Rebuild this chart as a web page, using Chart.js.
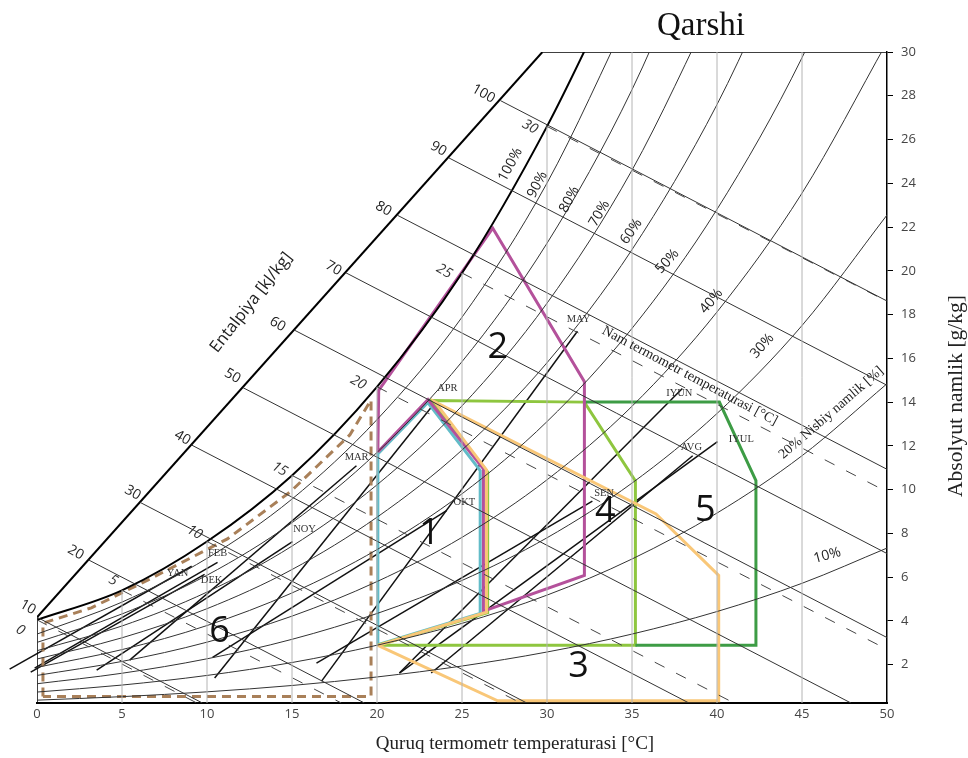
<!DOCTYPE html>
<html>
<head>
<meta charset="utf-8">
<script src="https://cdn.jsdelivr.net/npm/chart.js@4.4.1/dist/chart.umd.min.js"></script>
<style>
  html, body { margin: 0; padding: 0; background: #ffffff; }
  #wrap { width: 968px; height: 758px; }
</style>
</head>
<body>
<div id="wrap"><canvas id="chart" width="968" height="758"></canvas></div>
<script>
// ---------------- axes ----------------
const tempTicks = [0, 5, 10, 15, 20, 25, 30, 35, 40, 45, 50];          // dry-bulb °C
const humTicks  = [2, 4, 6, 8, 10, 12, 14, 16, 18, 20, 22, 24, 26, 28, 30]; // g/kg

// ---------------- relative humidity curves (g/kg at rhTemps) ----------------
const rhTemps = [0, 5, 10, 15, 20, 25, 30, 35, 40, 45, 50];
const rh100 = [4.05, 5.40, 7.63, 10.65, 14.70, 19.90, 26.60, 34.60];
const rh90  = [3.40, 4.86, 6.86, 9.57, 13.20, 17.88, 24.01, 31.99];
const rh80  = [3.02, 4.32, 6.09, 8.49, 11.70, 15.85, 21.26, 28.28, 37.36];
const rh70  = [2.64, 3.77, 5.32, 7.42, 10.22, 13.83, 18.52, 24.60, 32.44];
const rh60  = [2.26, 3.23, 4.56, 6.35, 8.74, 11.81, 15.80, 20.97, 27.60, 36.00];
const rh50  = [1.88, 2.69, 3.79, 5.28, 7.26, 9.81, 13.11, 17.37, 22.81, 29.74, 38.55];
const rh40  = [1.51, 2.15, 3.03, 4.22, 5.80, 7.82, 10.45, 13.81, 18.12, 23.55, 30.45];
const rh30  = [1.13, 1.61, 2.27, 3.16, 4.34, 5.85, 7.80, 10.30, 13.48, 17.50, 22.55];
const rh20  = [0.75, 1.07, 1.51, 2.10, 2.89, 3.89, 5.18, 6.83, 8.93, 11.55, 14.84];
const rh10  = [0.38, 0.54, 0.76, 1.05, 1.44, 1.94, 2.58, 3.40, 4.43, 5.72, 7.33];

// ---------------- enthalpy lines, kJ/kg: [t, g/kg] at the scale and at the edge ----------------
const enthalpyValues = [10, 20, 30, 40, 50, 60, 70, 80, 90, 100];
const enthalpyStart = [[0, 4.17], [3.03, 6.79], [6.06, 9.42], [9.09, 12.04], [12.12, 14.66],
                       [15.14, 17.29], [18.17, 19.91], [21.20, 22.54], [24.23, 25.16], [27.26, 27.78]];
const enthalpyEnd   = [[9.73, 0.25], [19.26, 0.25], [28.81, 0.25], [38.35, 0.25], [47.88, 0.25],
                       [50, 3.24], [50, 7.08], [50, 10.93], [50, 14.77], [50, 18.62]];
const enthalpyScale = [[0, 4.17], [29.73, 30]];

// ---------------- wet-bulb lines, °C ----------------
const wetBulbTemps = [0, 5, 10, 15, 20, 25, 30];
const wetBulbStart = [[0, 4.05], [5, 5.40], [10, 7.63], [15, 10.65], [20, 14.70], [25, 19.90], [30, 26.60]];
const wetBulbEnd   = [[9.4, 0.25], [17.9, 0.25], [28.45, 0.25], [41.0, 0.25], [50, 2.70], [50, 9.90], [50, 18.60]];

// ---------------- isotherm grid ----------------
const gridTemps = [5, 10, 15, 20, 25, 30, 35, 40, 45];
const gridTop   = [5.40, 7.63, 10.65, 14.70, 19.90, 26.60, 30, 30, 30];

// ---------------- comfort / design zones [t, g/kg] ----------------
const zone1 = [[20.05, 2.92], [20.05, 11.63], [22.99, 13.98], [26.07, 10.87], [26.07, 4.34], [20.05, 2.92]];
const zone2 = [[20.05, 11.72], [23.0, 14.12], [26.26, 10.95], [26.26, 4.45], [32.2, 6.08], [32.2, 14.93],
               [26.81, 21.95], [20.1, 14.54], [20.05, 11.72]];
const zone3 = [[20.05, 2.88], [26.44, 4.40], [26.44, 10.90], [23.40, 14.02], [36.41, 8.89], [40.1, 6.08],
               [40.1, 0.35], [27.1, 0.35], [20.05, 2.88]];
const zone4 = [[20.05, 2.89], [26.51, 4.38], [26.51, 10.80], [23.19, 14.07], [32.2, 14.0], [35.2, 10.4],
               [35.2, 2.89], [20.05, 2.89]];
const zone5 = [[32.2, 14.0], [40.14, 14.0], [42.29, 10.41], [42.29, 2.89], [35.2, 2.89]];
const zone6 = [[0.35, 0.55], [0.35, 3.90], [3.2, 4.60], [6.6, 5.90], [11.2, 7.75], [14.9, 9.90],
               [18.4, 12.50], [19.65, 14.10], [19.65, 0.55], [0.35, 0.55]];
const zoneNames = ['1', '2', '3', '4', '5', '6'];

// ---------------- monthly daily ranges: [t, g/kg] at min and max ----------------
const monthNames = ['YAN', 'FEB', 'MAR', 'APR', 'MAY', 'IYUN', 'IYUL', 'AVG', 'SEN', 'OKT', 'NOY', 'DEK'];
const monthStart = [[-1.61, 1.80], [-0.14, 1.84], [5.45, 2.21], [10.45, 1.39], [16.74, 1.25], [21.32, 1.62],
                    [21.32, 1.62], [23.19, 1.62], [16.44, 2.07], [10.33, 2.34], [3.51, 1.75], [-0.37, 1.66]];
const monthEnd   = [[9.10, 6.50], [10.62, 6.68], [18.79, 11.09], [23.50, 14.06], [31.79, 17.24], [37.96, 14.62],
                    [40.03, 12.19], [38.57, 11.55], [32.67, 9.48], [24.09, 9.04], [15.03, 7.63], [9.86, 6.13]];

// ---------------- dataset assembly ----------------
const datasets = [];
function addLine(points, style) {
  datasets.push(Object.assign({
    data: points.map(p => ({ x: p[0], y: p[1] })),
    showLine: true, pointRadius: 0, fill: false, tension: 0,
    borderColor: '#2b2b2b', borderWidth: 1
  }, style || {}));
}

// isotherms
gridTemps.forEach((t, i) => addLine([[t, 0.25], [t, gridTop[i]]], { borderColor: '#b4b4b4', borderWidth: 1 }));

// enthalpy lines
enthalpyValues.forEach((h, i) => addLine([enthalpyStart[i], enthalpyEnd[i]], { borderColor: '#333', borderWidth: 1 }));

// wet-bulb lines
wetBulbTemps.forEach((tw, i) => addLine([wetBulbStart[i], wetBulbEnd[i]],
  { borderColor: '#444', borderWidth: 1, borderDash: [11, 13] }));

// relative humidity curves
[rh90, rh80, rh70, rh60, rh50, rh40, rh30, rh20, rh10].forEach(vals =>
  addLine(vals.map((v, i) => [rhTemps[i], v]), { borderColor: '#333', borderWidth: 1, cubicInterpolationMode: 'monotone' }));

// saturation curve, enthalpy scale and frame pieces
addLine(rh100.map((v, i) => [rhTemps[i], v]), { borderColor: '#000', borderWidth: 2, cubicInterpolationMode: 'monotone' });
addLine(enthalpyScale, { borderColor: '#000', borderWidth: 2 });
addLine([[0, 0.25], enthalpyScale[0]], { borderColor: '#000', borderWidth: 1.5 });
addLine([enthalpyScale[1], [50, 30]], { borderColor: '#000', borderWidth: 1.5 });

// zones
addLine(zone6, { borderColor: '#a98059', borderWidth: 3, borderDash: [9, 6] });
addLine(zone3, { borderColor: '#f9c778', borderWidth: 3 });
addLine(zone2, { borderColor: '#b4519b', borderWidth: 3 });
addLine(zone5, { borderColor: '#3d9c45', borderWidth: 3 });
addLine(zone4, { borderColor: '#8ec63f', borderWidth: 3 });
addLine(zone1, { borderColor: '#62bcc8', borderWidth: 3 });

// months
monthNames.forEach((m, i) => addLine([monthStart[i], monthEnd[i]], { borderColor: '#111', borderWidth: 1.5, clip: false }));

// ---------------- label placement (data coordinates) ----------------
const SANS = '"Open Sans", "DejaVu Sans", sans-serif';
const SERIF = '"Liberation Serif", "DejaVu Serif", serif';
const enthalpyLabelAt = [[-0.54, 4.62], [2.28, 7.13], [5.63, 9.86], [8.56, 12.37], [11.5, 15.19],
                         [14.15, 17.56], [17.44, 20.11], [20.38, 22.84], [23.62, 25.58], [26.26, 28.09]];
const wetBulbLabelAt = [[-0.98, 3.58], [4.47, 5.85], [9.27, 8.05], [14.27, 10.94], [18.89, 14.89], [23.95, 19.98], [29.0, 26.58]];
const rhLabels = [
  ['100%', 27.85, 24.85, -62], ['90%', 29.44, 23.94, -62], ['80%', 31.32, 23.26, -62], ['70%', 33.08, 22.62, -60],
  ['60%', 34.96, 21.80, -55], ['50%', 37.08, 20.43, -48], ['40%', 39.67, 18.61, -50], ['30%', 42.66, 16.56, -48],
  ['10%', 46.49, 6.99, -15]
];
const monthLabelAt = [[8.27, 6.17], [10.62, 7.08], [18.8, 11.46], [24.14, 14.65], [31.85, 17.79], [37.78, 14.42],
                      [41.43, 12.32], [38.49, 11.96], [33.36, 9.82], [25.14, 9.41], [15.74, 8.18], [10.27, 5.85]];
const zoneLabelAt = [[23.09, 7.98], [27.1, 16.48], [31.86, 1.90], [33.43, 8.97], [39.31, 9.05], [10.74, 3.50]];

function drawText(ctx, txt, px, py, rot, font, color, align) {
  ctx.save();
  ctx.translate(px, py);
  ctx.rotate(rot * Math.PI / 180);
  ctx.font = font;
  ctx.fillStyle = color;
  ctx.textAlign = align || 'center';
  ctx.textBaseline = 'middle';
  ctx.fillText(txt, 0, 0);
  ctx.restore();
}

const chartText = {
  id: 'chartText',
  afterDraw(chart) {
    const { ctx, scales } = chart;
    const X = v => scales.x.getPixelForValue(v);
    const Y = v => scales.y.getPixelForValue(v);

    drawText(ctx, 'Qarshi', 701, 26, 0, '33px ' + SERIF, '#111');
    drawText(ctx, 'Quruq termometr temperaturasi [°C]', 515, 744, 0, '19px ' + SERIF, '#222');
    drawText(ctx, 'Absolyut namlik [g/kg]', 956, 396, -90, '21.5px ' + SERIF, '#222');
    drawText(ctx, 'Entalpiya [kJ/kg]', X(12.6), Y(18.55), -52, '16.5px ' + SANS, '#222');

    enthalpyValues.forEach((h, i) =>
      drawText(ctx, String(h), X(enthalpyLabelAt[i][0]), Y(enthalpyLabelAt[i][1]), 30, '14px ' + SANS, '#222'));
    wetBulbTemps.forEach((tw, i) =>
      drawText(ctx, String(tw), X(wetBulbLabelAt[i][0]), Y(wetBulbLabelAt[i][1]), 30, 'italic 14px ' + SANS, '#333'));
    rhLabels.forEach(r => drawText(ctx, r[0], X(r[1]), Y(r[2]), r[3], '14px ' + SANS, '#222'));
    drawText(ctx, '20% Nisbiy namlik [%]', X(46.72), Y(13.51), -41, '14px ' + SERIF, '#222');
    drawText(ctx, 'Nam termometr temperaturasi [°C]', X(38.4), Y(15.2), 28, '14px ' + SERIF, '#222');

    monthNames.forEach((m, i) =>
      drawText(ctx, m, X(monthLabelAt[i][0]), Y(monthLabelAt[i][1]), 0, '10.5px ' + SERIF, '#333'));
    zoneNames.forEach((z, i) =>
      drawText(ctx, z, X(zoneLabelAt[i][0]), Y(zoneLabelAt[i][1]), 0, '36px ' + SANS, '#111'));
  }
};

new Chart(document.getElementById('chart'), {
  type: 'scatter',
  data: { datasets },
  options: {
    responsive: false,
    animation: false,
    events: [],
    layout: { padding: { left: 37, top: 52, right: 0, bottom: 0 } },
    plugins: { legend: { display: false }, tooltip: { enabled: false }, title: { display: false } },
    scales: {
      x: {
        type: 'linear', min: 0, max: 50, position: 'bottom',
        afterBuildTicks: s => { s.ticks = tempTicks.map(v => ({ value: v })); },
        afterFit: s => { s.height = 55; },
        grid: { display: false, drawTicks: false },
        border: { display: true, color: '#000', width: 2 },
        ticks: { font: { family: SANS, size: 13 }, color: '#444', padding: 3, maxRotation: 0, autoSkip: false }
      },
      y: {
        type: 'linear', min: 0.25, max: 30, position: 'right',
        afterBuildTicks: s => { s.ticks = humTicks.map(v => ({ value: v })); },
        afterFit: s => { s.width = 81; },
        grid: { display: true, drawOnChartArea: false, drawTicks: true, tickLength: 6, color: '#000' },
        border: { display: true, color: '#000', width: 1.5 },
        ticks: { font: { family: SANS, size: 13 }, color: '#444', padding: 8, autoSkip: false }
      }
    }
  },
  plugins: [chartText]
});
</script>
</body>
</html>
